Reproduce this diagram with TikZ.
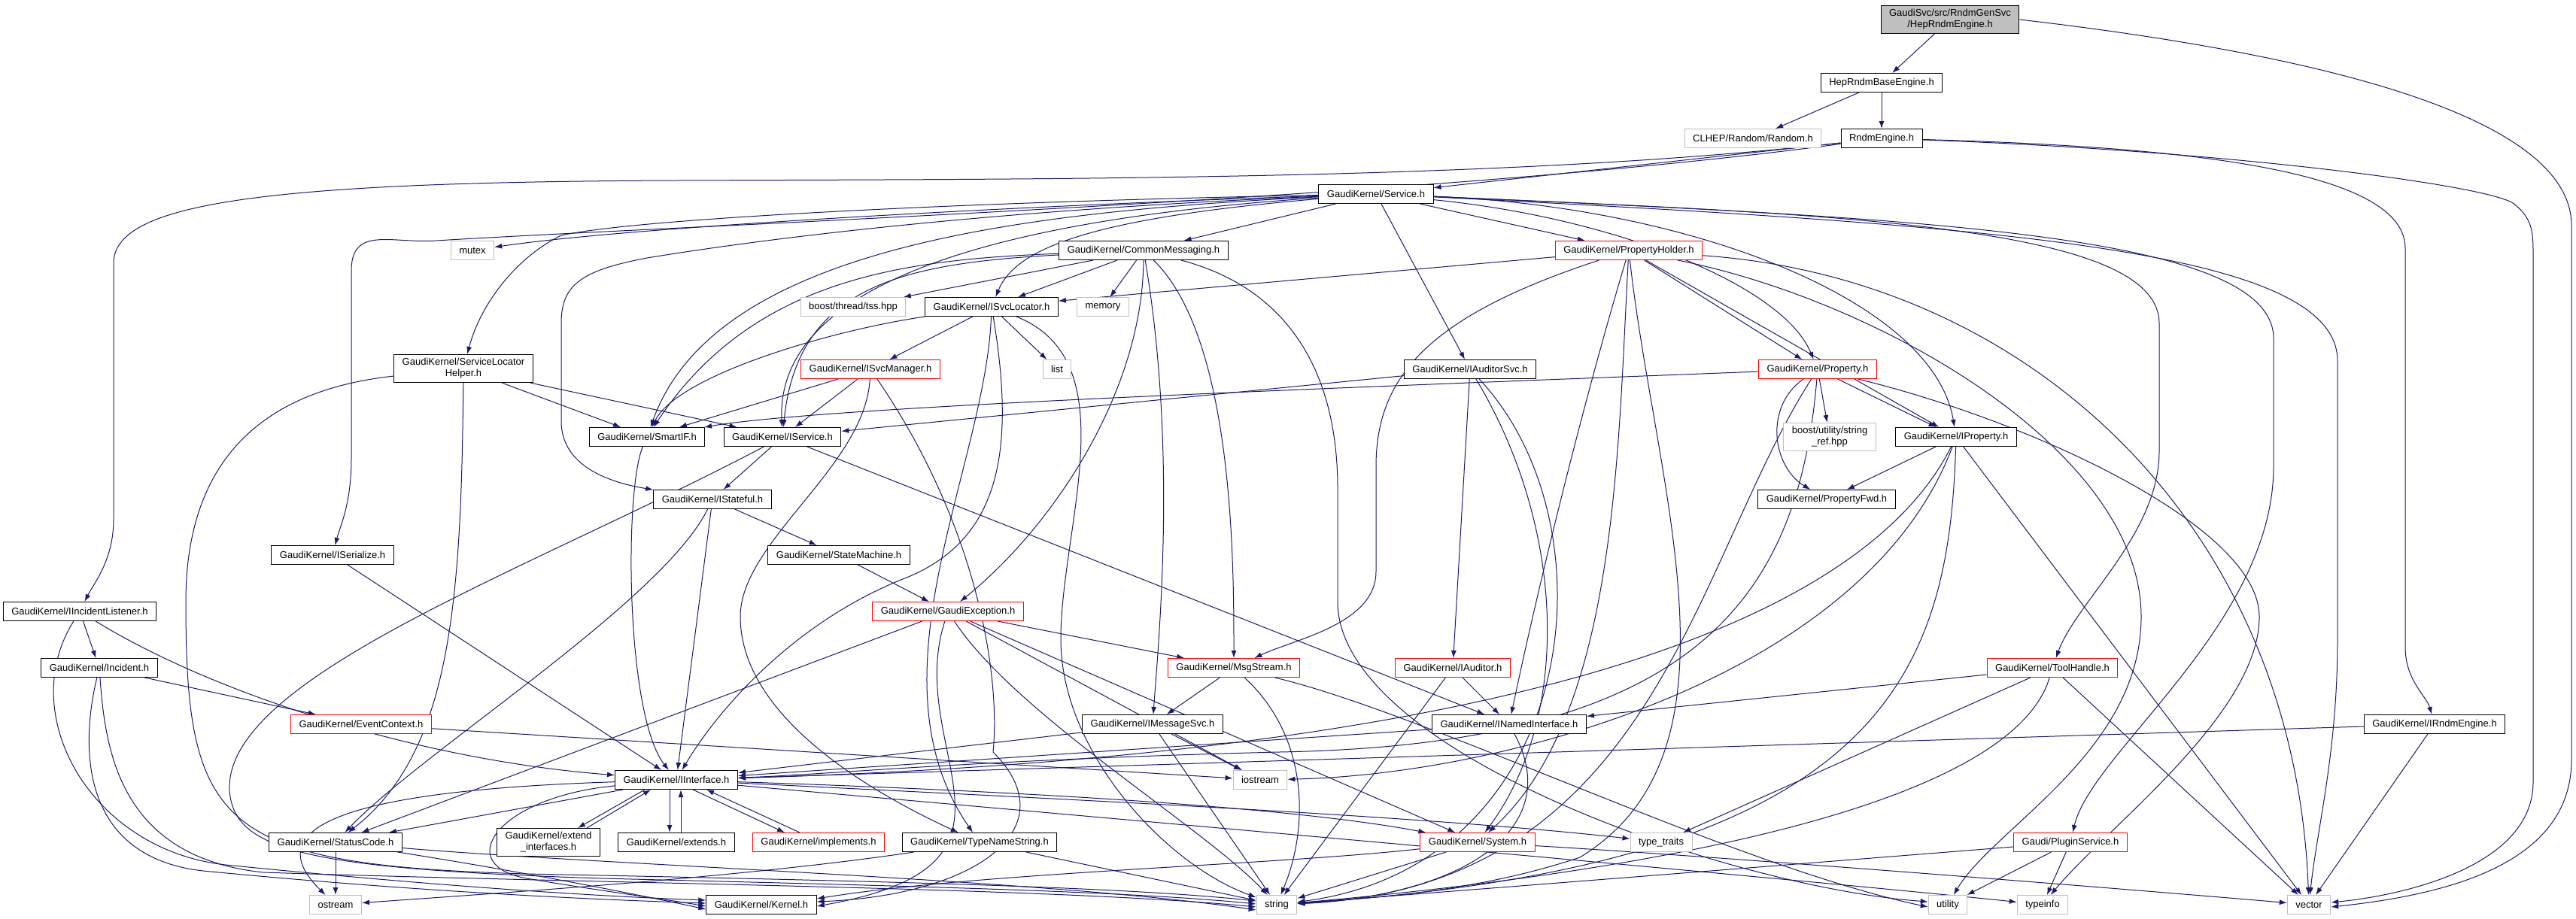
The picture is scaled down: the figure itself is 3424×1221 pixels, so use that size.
\documentclass[tikz,border=0pt]{standalone}
\usepackage{fontspec}
\setmainfont{Liberation Sans}
\usetikzlibrary{arrows.meta}

\definecolor{edgeblue}{HTML}{191970}
\definecolor{sysgray}{HTML}{BFBFBF}

\pgfdeclarelayer{background}
\pgfsetlayers{background,main}

\tikzset{
  file/.style={draw=black, fill=white, line width=1pt, inner xsep=11pt, inner ysep=5pt,
    minimum height=25pt, align=center, font=\fontsize{13}{15}\selectfont},
  redfile/.style={file, draw=red},
  sysfile/.style={file, draw=sysgray},
  mainfile/.style={file, fill=sysgray},
  dep/.style={draw=edgeblue, line width=1pt, -{Latex[length=10pt,width=7pt]}},
}

\begin{document}
\begin{tikzpicture}[x=1pt,y=1pt]
\useasboundingbox (0,0) rectangle (3424,-1221);

% Files, one rank after the other
\node[mainfile] (root) at (2592,-26) {GaudiSvc/src/RndmGenSvc\\/HepRndmEngine.h};
\node[file] (hepbase) at (2501,-110) {HepRndmBaseEngine.h};
\node[sysfile] (clhep) at (2330,-184) {CLHEP/Random/Random.h};
\node[file] (rndmeng) at (2501,-184) {RndmEngine.h};
\node[file] (service) at (1829,-258) {GaudiKernel/Service.h};
\node[sysfile] (mutex) at (628,-333) {mutex};
\node[file] (commsg) at (1520,-333) {GaudiKernel/CommonMessaging.h};
\node[redfile] (propholder) at (2165,-333) {GaudiKernel/PropertyHolder.h};
\node[sysfile] (tss) at (1134,-408) {boost/thread/tss.hpp};
\node[file] (svcloc) at (1318,-408) {GaudiKernel/ISvcLocator.h};
\node[sysfile] (memory) at (1466,-408) {memory};
\node[redfile] (svcmgr) at (1157,-491) {GaudiKernel/ISvcManager.h};
\node[sysfile] (list) at (1405,-491) {list};
\node[file] (slh) at (616,-490) {GaudiKernel/ServiceLocator\\Helper.h};
\node[file] (iauditorsvc) at (1954,-491) {GaudiKernel/IAuditorSvc.h};
\node[redfile] (property) at (2416,-491) {GaudiKernel/Property.h};
\node[file] (smartif) at (860,-581) {GaudiKernel/SmartIF.h};
\node[file] (iservice) at (1040,-581) {GaudiKernel/IService.h};
\node[sysfile] (stringref) at (2432,-581) {boost/utility/string\\\_ref.hpp};
\node[file] (iproperty) at (2600,-581) {GaudiKernel/IProperty.h};
\node[file] (istateful) at (947,-664) {GaudiKernel/IStateful.h};
\node[file] (propfwd) at (2428,-664) {GaudiKernel/PropertyFwd.h};
\node[file] (iserial) at (442,-738) {GaudiKernel/ISerialize.h};
\node[file] (statemach) at (1115,-738) {GaudiKernel/StateMachine.h};
\node[file] (iincl) at (106,-813) {GaudiKernel/IIncidentListener.h};
\node[redfile] (gaudiexc) at (1260,-813) {GaudiKernel/GaudiException.h};
\node[file] (incident) at (132,-888) {GaudiKernel/Incident.h};
\node[redfile] (msgstream) at (1640,-888) {GaudiKernel/MsgStream.h};
\node[redfile] (iauditor) at (1931,-888) {GaudiKernel/IAuditor.h};
\node[redfile] (toolhandle) at (2728,-888) {GaudiKernel/ToolHandle.h};
\node[redfile] (evtctx) at (480,-963) {GaudiKernel/EventContext.h};
\node[file] (imsgsvc) at (1532,-963) {GaudiKernel/IMessageSvc.h};
\node[file] (inamed) at (2006,-963) {GaudiKernel/INamedInterface.h};
\node[file] (irndm) at (3236,-963) {GaudiKernel/IRndmEngine.h};
\node[file] (iinterface) at (899,-1037) {GaudiKernel/IInterface.h};
\node[sysfile] (iostream) at (1675,-1037) {iostream};
\node[file] (statuscode) at (446,-1120) {GaudiKernel/StatusCode.h};
\node[file] (extendif) at (729,-1120) {GaudiKernel/extend\\\_interfaces.h};
\node[file] (extends) at (899,-1120) {GaudiKernel/extends.h};
\node[redfile] (implements) at (1088,-1120) {GaudiKernel/implements.h};
\node[file] (typename) at (1302,-1120) {GaudiKernel/TypeNameString.h};
\node[redfile] (system) at (1964,-1120) {GaudiKernel/System.h};
\node[sysfile] (typetraits) at (2208,-1120) {type\_traits};
\node[redfile] (pluginsvc) at (2752,-1120) {Gaudi/PluginService.h};
\node[sysfile] (ostream) at (446,-1203) {ostream};
\node[file] (kernel) at (1012,-1203) {GaudiKernel/Kernel.h};
\node[sysfile] (string) at (1697,-1203) {string};
\node[sysfile] (utility) at (2589,-1203) {utility};
\node[sysfile] (typeinfo) at (2715,-1203) {typeinfo};
\node[sysfile] (vector) at (3069,-1203) {vector};

\begin{pgfonlayer}{background}
% HepRndmEngine.h
\draw[dep] (root) -- (hepbase);
\draw[dep] (root.east) .. controls (3150,-80) and (3418,-170) .. (3418,-300) -- (3418,-1010) .. controls (3418,-1150) and (3250,-1190) .. ([yshift=-3pt]vector.east);

% HepRndmBaseEngine.h
\draw[dep] (hepbase) -- (clhep);
\draw[dep] (hepbase) -- (rndmeng);

% RndmEngine.h
\draw[dep] (rndmeng) -- (service);
\draw[dep] (rndmeng) .. controls (2000,-240) and (1400,-238) .. (900,-240) .. controls (350,-242) and (151,-270) .. (151,-350) -- (151,-690) .. controls (151,-745) and (125,-775) .. (iincl);
\draw[dep] (rndmeng) .. controls (1900,-265) and (900,-300) .. (580,-320) .. controls (520,-324) and (467,-300) .. (467,-360) -- (467,-610) .. controls (467,-670) and (452,-700) .. (iserial);
\draw[dep] (rndmeng) .. controls (2900,-195) and (3197,-225) .. (3197,-330) -- (3197,-860) .. controls (3197,-905) and (3225,-925) .. (irndm);
\draw[dep] (rndmeng) .. controls (2950,-200) and (3300,-245) .. (3340,-270) .. controls (3367,-290) and (3367,-310) .. (3367,-340) -- (3367,-1040) .. controls (3367,-1150) and (3200,-1190) .. ([yshift=3pt]vector.east);

% Service.h
\draw[dep] (service) .. controls (1400,-272) and (850,-300) .. (mutex);
\draw[dep] (service) -- (commsg);
\draw[dep] (service) -- (propholder);
\draw[dep] (service) .. controls (1450,-290) and (1350,-330) .. (svcloc);
\draw[dep] (service) .. controls (1300,-268) and (850,-290) .. (746,-313) .. controls (690,-340) and (640,-400) .. (slh);
\draw[dep] (service) .. controls (1350,-282) and (950,-330) .. (smartif);
\draw[dep] (service) .. controls (1380,-288) and (1030,-360) .. (iservice);
\draw[dep] (service) .. controls (1300,-280) and (1000,-320) .. (860,-343) .. controls (770,-360) and (746,-380) .. (746,-430) -- (746,-560) .. controls (746,-615) and (800,-640) .. (istateful);
\draw[dep] (service) -- (iauditorsvc);
\draw[dep] (service) .. controls (2150,-290) and (2370,-380) .. (property);
\draw[dep] (service) .. controls (2250,-275) and (2570,-400) .. (iproperty);
\draw[dep] (service) .. controls (2450,-285) and (2870,-300) .. (2870,-430) -- (2870,-600) .. controls (2870,-710) and (2760,-800) .. (toolhandle);
\draw[dep] (service) .. controls (2550,-290) and (3022,-310) .. (3022,-450) -- (3022,-620) .. controls (3022,-830) and (2780,-1000) .. (pluginsvc);
\draw[dep] (service) .. controls (2650,-300) and (3107,-330) .. (3107,-480) -- (3107,-850) .. controls (3107,-1000) and (3080,-1100) .. (vector);

% CommonMessaging.h
\draw[dep] (commsg) -- (tss);
\draw[dep] (commsg) -- (svcloc);
\draw[dep] (commsg) -- (memory);
\draw[dep] (commsg) .. controls (1200,-345) and (1000,-370) .. (smartif);
\draw[dep] (commsg) .. controls (1200,-350) and (1060,-380) .. (iservice);
\draw[dep] (commsg) .. controls (1519,-520) and (1400,-700) .. (gaudiexc);
\draw[dep] (commsg) .. controls (1565,-600) and (1540,-850) .. (imsgsvc);
\draw[dep] (commsg) .. controls (1640,-450) and (1640,-750) .. (msgstream);
\draw[dep] (commsg) .. controls (1700,-380) and (1778,-480) .. (1778,-650) -- (1778,-800) .. controls (1778,-1000) and (2300,-1180) .. ([yshift=4pt]utility.west);

% PropertyHolder.h
\draw[dep] (propholder) -- (svcloc);
\draw[dep] (propholder) .. controls (1900,-420) and (1829,-500) .. (1829,-620) -- (1829,-760) .. controls (1829,-830) and (1720,-850) .. (msgstream);
\draw[dep] (propholder) .. controls (2100,-550) and (2040,-800) .. (inamed);
\draw[dep] (propholder) .. controls (2150,-600) and (2150,-950) .. (system);
\draw[dep] (propholder) .. controls (2200,-650) and (2330,-1000) .. (2100,-1140) .. controls (1950,-1190) and (1800,-1195) .. (string);
\draw[dep] (propholder) -- (property);
\draw[dep] (propholder) -- (iproperty);
\draw[dep] (propholder) .. controls (2500,-400) and (2846,-600) .. (2846,-820) .. controls (2846,-1000) and (2650,-1100) .. (utility);
\draw[dep] (propholder) .. controls (2700,-370) and (3050,-700) .. (vector);

% ISvcLocator.h
\draw[dep] (svcloc) .. controls (1100,-440) and (900,-500) .. (smartif);
\draw[dep] (svcloc) -- (svcmgr);
\draw[dep] (svcloc) -- (list);
\draw[dep] (svcloc) .. controls (1350,-600) and (1330,-720) .. (1200,-770) .. controls (1050,-830) and (950,-950) .. (iinterface);
\draw[dep] (svcloc) .. controls (1310,-620) and (1150,-900) .. (typename);
\draw[dep] (svcloc) .. controls (1500,-480) and (1410,-700) .. (1410,-850) .. controls (1410,-1000) and (1550,-1150) .. (string);

% ISvcManager.h
\draw[dep] (svcmgr) -- (smartif);
\draw[dep] (svcmgr) -- (iservice);
\draw[dep] (svcmgr) .. controls (1150,-620) and (984,-720) .. (984,-820) .. controls (984,-950) and (1150,-1050) .. (typename);
\draw[dep] (svcmgr) .. controls (1300,-700) and (1330,-900) .. (1320,-1000) .. controls (1420,-1100) and (1300,-1190) .. ([yshift=4pt]kernel.east);

% ServiceLocatorHelper.h
\draw[dep] (slh) -- (smartif);
\draw[dep] (slh) -- (iservice);
\draw[dep] (slh) .. controls (613,-800) and (600,-1000) .. (statuscode);
\draw[dep] (slh) .. controls (340,-520) and (247,-620) .. (247,-800) .. controls (247,-1100) and (290,-1150) .. (700,-1162) .. controls (1200,-1172) and (1500,-1180) .. ([yshift=5pt]string.west);

% SmartIF.h
\draw[dep] (smartif) .. controls (830,-650) and (831,-950) .. (iinterface);

% IService.h
\draw[dep] (iservice) -- (istateful);
\draw[dep] (iservice) -- (inamed);
\draw[dep] (iservice) .. controls (700,-760) and (300,-900) .. (305,-1050) .. controls (310,-1130) and (400,-1155) .. (800,-1168) .. controls (1200,-1178) and (1500,-1185) .. ([yshift=1pt]string.west);

% IStateful.h
\draw[dep] (istateful) .. controls (880,-800) and (560,-1000) .. (statuscode);
\draw[dep] (istateful) -- (iinterface);
\draw[dep] (istateful) -- (statemach);

% ISerialize.h
\draw[dep] (iserial) -- (iinterface);

% IIncidentListener.h
\draw[dep] (iincl) -- (incident);
\draw[dep] (iincl) .. controls (280,-920) and (550,-1010) .. (iinterface);
\draw[dep] (iincl) .. controls (20,-950) and (120,-1130) .. (300,-1150) .. controls (600,-1180) and (800,-1192) .. ([yshift=6pt]kernel.west);

% Incident.h
\draw[dep] (incident) -- (evtctx);
\draw[dep] (incident) .. controls (105,-1000) and (110,-1140) .. (270,-1158) .. controls (600,-1190) and (850,-1198) .. ([yshift=2pt]kernel.west);
\draw[dep] (incident) .. controls (140,-1000) and (160,-1140) .. (350,-1160) .. controls (800,-1175) and (1400,-1180) .. ([yshift=-3pt]string.west);

% EventContext.h
\draw[dep] (evtctx) -- (iostream);

% StateMachine.h
\draw[dep] (statemach) -- (gaudiexc);

% GaudiException.h
\draw[dep] (gaudiexc) -- (statuscode);
\draw[dep] (gaudiexc) .. controls (1200,-1000) and (1400,-1150) .. ([yshift=-2pt]kernel.east);
\draw[dep] (gaudiexc) -- (system);
\draw[dep] (gaudiexc) .. controls (1350,-950) and (1600,-1100) .. (string);
\draw[dep] (gaudiexc) -- (iostream);
\draw[dep] (gaudiexc) -- (msgstream);

% MsgStream.h
\draw[dep] (msgstream) -- (imsgsvc);
\draw[dep] (msgstream) .. controls (1740,-980) and (1740,-1100) .. (string);
\draw[dep] (msgstream) .. controls (1900,-950) and (2300,-1150) .. ([yshift=-3pt]utility.west);

% IMessageSvc.h
\draw[dep] (imsgsvc) -- (iinterface);
\draw[dep] (imsgsvc) -- (iostream);
\draw[dep] (imsgsvc) -- (string);

% IAuditorSvc.h
\draw[dep] (iauditorsvc) -- (iservice);
\draw[dep] (iauditorsvc) -- (iauditor);
\draw[dep] (iauditorsvc) .. controls (2080,-700) and (2090,-950) .. (system);
\draw[dep] (iauditorsvc) .. controls (2150,-700) and (2100,-1150) .. (string);

% IAuditor.h
\draw[dep] (iauditor) -- (inamed);
\draw[dep] (iauditor) -- (string);

% INamedInterface.h
\draw[dep] (inamed) -- (iinterface);
\draw[dep] (inamed) .. controls (2080,-1100) and (1950,-1190) .. (string);

% ToolHandle.h
\draw[dep] (toolhandle) -- (inamed);
\draw[dep] (toolhandle) -- (typetraits);
\draw[dep] (toolhandle) .. controls (2680,-1050) and (2300,-1150) .. (string);
\draw[dep] (toolhandle) -- (vector);

% IRndmEngine.h
\draw[dep] (irndm) -- (iinterface);
\draw[dep] (irndm) -- (vector);

% Property.h
\draw[dep] (property) .. controls (1800,-515) and (1100,-540) .. (smartif);
\draw[dep] (property) -- (iproperty);
\draw[dep] (property) -- (stringref);
\draw[dep] (property) .. controls (2345,-540) and (2355,-620) .. (propfwd);
\draw[dep] (property) .. controls (2390,-800) and (2250,-990) .. (1700,-1000) .. controls (1300,-1010) and (1100,-1030) .. (iinterface);
\draw[dep] (property) .. controls (2250,-750) and (2200,-1180) .. (string);
\draw[dep] (property) .. controls (2700,-560) and (3003,-700) .. (3003,-820) .. controls (3003,-950) and (2800,-1100) .. (typeinfo);

% IProperty.h
\draw[dep] (iproperty) -- (propfwd);
\draw[dep] (iproperty) .. controls (2500,-780) and (2150,-1000) .. (iinterface);
\draw[dep] (iproperty) .. controls (2480,-900) and (2000,-1030) .. (iostream);
\draw[dep] (iproperty) .. controls (2590,-900) and (2500,-1150) .. (string);
\draw[dep] (iproperty) -- (vector);

% IInterface.h
\draw[dep] (iinterface) -- (statuscode);
\draw[dep] ([xshift=40pt]iinterface.south west) -- ([xshift=-30pt]extendif.north east);
\draw[dep] ([xshift=-18pt]extendif.north east) -- ([xshift=48pt]iinterface.south west);
\draw[dep] ([xshift=-9pt]iinterface.south) -- ([xshift=-9pt]extends.north);
\draw[dep] ([xshift=6pt]extends.north) -- ([xshift=6pt]iinterface.south);
\draw[dep] ([xshift=22pt]iinterface.south) -- ([xshift=-45pt]implements.north);
\draw[dep] ([xshift=-25pt]implements.north) -- ([xshift=40pt]iinterface.south);
\draw[dep] (iinterface) .. controls (500,-1050) and (330,-1090) .. (ostream);
\draw[dep] (iinterface) .. controls (660,-1060) and (600,-1150) .. (700,-1168) .. controls (800,-1185) and (880,-1195) .. ([yshift=-2pt]kernel.west);
\draw[dep] (iinterface) .. controls (1300,-1050) and (1700,-1070) .. (system);
\draw[dep] (iinterface) .. controls (1400,-1062) and (1900,-1085) .. (typetraits);
\draw[dep] (iinterface) .. controls (1500,-1090) and (2400,-1170) .. (typeinfo);

% StatusCode.h
\draw[dep] (statuscode) -- (ostream);
\draw[dep] (statuscode) .. controls (700,-1160) and (850,-1190) .. ([yshift=-6pt]kernel.west);
\draw[dep] (statuscode) .. controls (800,-1150) and (1400,-1170) .. ([yshift=-7pt]string.west);

% TypeNameString.h
\draw[dep] (typename) .. controls (1000,-1165) and (700,-1185) .. (ostream);
\draw[dep] (typename) -- (string);

% System.h
\draw[dep] (system) .. controls (1700,-1150) and (1300,-1160) .. ([yshift=8pt]kernel.east);
\draw[dep] (system) -- (string);
\draw[dep] (system) .. controls (2300,-1140) and (2800,-1180) .. (vector);

% Gaudi/PluginService.h
\draw[dep] (pluginsvc) -- (utility);
\draw[dep] (pluginsvc) -- (typeinfo);
\draw[dep] (pluginsvc) .. controls (2500,-1140) and (2000,-1180) .. (string);
\end{pgfonlayer}

\end{tikzpicture}
\end{document}
